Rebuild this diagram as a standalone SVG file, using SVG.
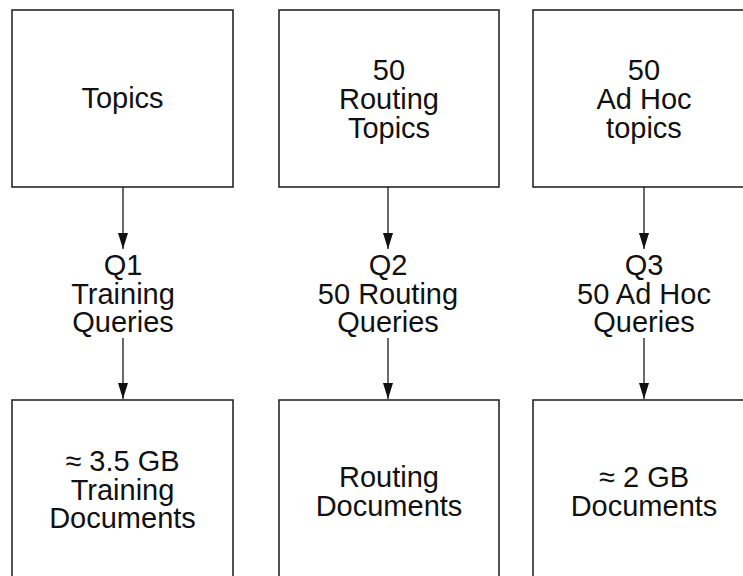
<svg xmlns="http://www.w3.org/2000/svg" width="743" height="576" viewBox="0 0 743 576">
<defs>
<style>
.box{fill:#fff;stroke:#1a1a1a;stroke-width:1.5}
.t{font-family:"Liberation Sans",Arial,Helvetica,sans-serif;font-size:29px;fill:#111;text-anchor:middle}
.c{stroke:#1a1a1a;stroke-width:1.3;fill:none}
</style>
<marker id="ah" markerWidth="16" markerHeight="10" refX="16" refY="5" orient="auto" markerUnits="userSpaceOnUse" viewBox="0 0 16 10">
<path d="M0,0 L16,5 L0,10 Z" fill="#111"/>
</marker>
</defs>
<rect width="743" height="576" fill="#fff"/>
<g id="topics">
<rect class="box" x="12" y="10" width="221" height="177"/>
<text class="t" x="122.5" y="108">Topics</text>
</g>
<g id="routing-topics">
<rect class="box" x="279" y="10" width="220" height="177"/>
<text class="t" x="389" y="80">50</text>
<text class="t" x="389" y="109">Routing</text>
<text class="t" x="389" y="138">Topics</text>
</g>
<g id="adhoc-topics">
<rect class="box" x="533" y="10" width="230" height="177"/>
<text class="t" x="644" y="80">50</text>
<text class="t" x="644" y="109">Ad Hoc</text>
<text class="t" x="644" y="138">topics</text>
</g>
<g id="training-docs">
<rect class="box" x="12" y="400" width="221" height="200"/>
<text class="t" x="122.5" y="471">≈ 3.5 GB</text>
<text class="t" x="122.5" y="499.5">Training</text>
<text class="t" x="122.5" y="528">Documents</text>
</g>
<g id="routing-docs">
<rect class="box" x="279" y="400" width="220" height="200"/>
<text class="t" x="389" y="487">Routing</text>
<text class="t" x="389" y="516">Documents</text>
</g>
<g id="adhoc-docs">
<rect class="box" x="533" y="400" width="230" height="200"/>
<text class="t" x="644" y="487">≈ 2 GB</text>
<text class="t" x="644" y="516">Documents</text>
</g>
<g id="q1">
<text class="t" x="123" y="275">Q1</text>
<text class="t" x="123" y="303.5">Training</text>
<text class="t" x="123" y="332">Queries</text>
</g>
<g id="q2">
<text class="t" x="388" y="275">Q2</text>
<text class="t" x="388" y="303.5">50 Routing</text>
<text class="t" x="388" y="332">Queries</text>
</g>
<g id="q3">
<text class="t" x="644" y="275">Q3</text>
<text class="t" x="644" y="303.5">50 Ad Hoc</text>
<text class="t" x="644" y="332">Queries</text>
</g>
<g id="connectors">
<line class="c" x1="123" y1="187" x2="123" y2="249" marker-end="url(#ah)"/>
<line class="c" x1="123" y1="338" x2="123" y2="399" marker-end="url(#ah)"/>
<line class="c" x1="388" y1="187" x2="388" y2="249" marker-end="url(#ah)"/>
<line class="c" x1="388" y1="338" x2="388" y2="399" marker-end="url(#ah)"/>
<line class="c" x1="644" y1="187" x2="644" y2="249" marker-end="url(#ah)"/>
<line class="c" x1="644" y1="338" x2="644" y2="399" marker-end="url(#ah)"/>
</g>
</svg>
